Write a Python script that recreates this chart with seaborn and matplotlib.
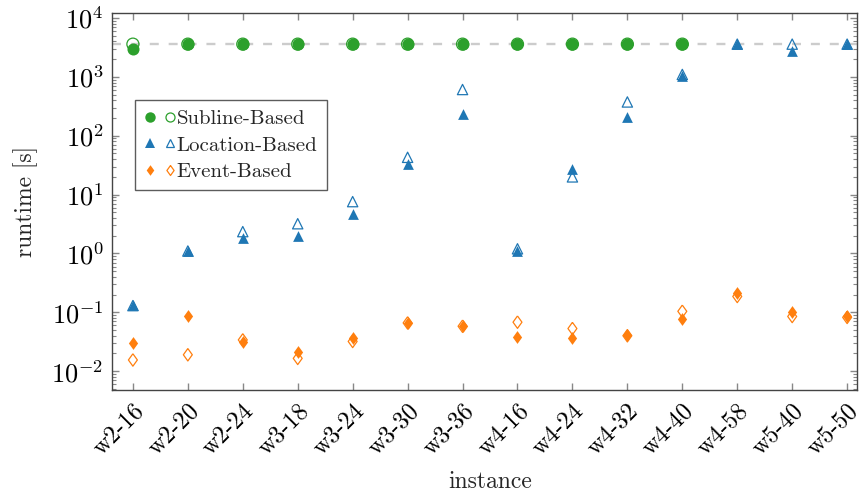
import numpy as np
import matplotlib
matplotlib.use("Agg")
import matplotlib.pyplot as plt
import seaborn as sbn
from matplotlib.legend_handler import HandlerTuple
from matplotlib.lines import Line2D
from matplotlib.ticker import LogLocator

nan = np.nan

instances = ["w2-16", "w2-20", "w2-24", "w3-18", "w3-24", "w3-30", "w3-36",
             "w4-16", "w4-24", "w4-32", "w4-40", "w4-58", "w5-40", "w5-50"]

subline_lleno = [2950, 3600, 3600, 3600, 3600, 3600, 3600,
                 3600, 3600, 3600, 3600, nan, nan, nan]
subline_hueco = [3600, 3600, 3600, 3600, 3600, 3600, 3600,
                 3600, 3600, 3600, 3600, nan, nan, nan]

location_lleno = [0.135, 1.1, 1.85, 1.95, 4.7, 33.5, 230,
                  1.1, 27, 210, 1030, 3600, 2780, 3600]
location_hueco = [0.13, 1.1, 2.35, 3.2, 7.6, 43, 610,
                  1.2, 20, 375, 1100, 3600, 3600, 3600]

event_lleno = [0.030, 0.088, 0.031, 0.021, 0.037, 0.066, 0.059,
               0.038, 0.037, 0.041, 0.078, 0.21, 0.10, 0.088]
event_hueco = [0.0155, 0.019, 0.034, 0.0165, 0.032, 0.066, 0.058,
               0.068, 0.053, 0.040, 0.104, 0.186, 0.085, 0.082]

timeout = 3600

verde = "#2ca02c"
azul = "#1f77b4"
naranja = "#ff7f0e"

# rombo al estilo pgfplots (mas alto que ancho)
rombo = [(0, 1), (0.72, 0), (0, -1), (-0.72, 0), (0, 1)]

sbn.set_style("ticks")
plt.rcParams["font.family"] = ["cmr10", "DejaVu Serif"]
plt.rcParams["mathtext.fontset"] = "cm"
plt.rcParams["axes.formatter.use_mathtext"] = True

fig = plt.figure(figsize = (8.59, 4.95), dpi = 100)
ax = fig.add_axes([0.1304, 0.2121, 0.8673, 0.7616])

ax.axhline(timeout, color = "#cccccc", linestyle = (0, (3.8, 4.2)), linewidth = 1.7, zorder = 1)

series = [
    (event_lleno, rombo, naranja, True, 85),
    (event_hueco, rombo, naranja, False, 80),
    (location_lleno, "^", azul, True, 60),
    (location_hueco, "^", azul, False, 55),
    (subline_hueco, "o", verde, False, 75),
    (subline_lleno, "o", verde, True, 75),
]
for valores, marcador, color, lleno, tam in series:
    if lleno:
        sbn.scatterplot(x = instances, y = valores, marker = marcador, color = color,
                        s = tam, linewidth = 0, ax = ax, zorder = 3)
    else:
        sbn.scatterplot(x = instances, y = valores, marker = marcador, color = color,
                        facecolor = "none", edgecolor = color, s = tam, linewidth = 0.9,
                        ax = ax, zorder = 3)

ax.set_yscale("log")
ax.set_ylim(10 ** -2.32, 10 ** 4.085)
ax.set_xlim(-0.38, 13.18)
ax.yaxis.set_major_locator(LogLocator(base = 10, numticks = 10))
ax.yaxis.set_minor_locator(LogLocator(base = 10, subs = np.arange(2, 10), numticks = 20))

for lado in ax.spines.values():
    lado.set_color("#444444")
    lado.set_linewidth(1.0)
ax.tick_params(axis = "both", which = "both", direction = "in", top = True, right = True,
               color = "#888888", labelcolor = "black")
ax.tick_params(axis = "both", which = "major", length = 5, width = 1)
ax.tick_params(axis = "y", which = "minor", length = 3, width = 0.8)
ax.tick_params(axis = "y", which = "major", pad = 6, labelsize = 19)
ax.tick_params(axis = "x", which = "major", pad = 7, labelsize = 17.5)
plt.setp(ax.get_xticklabels(), rotation = 45, ha = "right", rotation_mode = "anchor")

ax.set_xlabel("instance", fontsize = 17)
ax.set_ylabel("runtime [s]", fontsize = 17)
ax.xaxis.set_label_coords(0.507, -0.215)
ax.yaxis.set_label_coords(-0.1, 0.5)

def marca(m, c, lleno, ms):
    return Line2D([], [], linestyle = "none", marker = m, markersize = ms,
                  markerfacecolor = c if lleno else "none", markeredgecolor = c,
                  markeredgewidth = 0 if lleno else 0.9)

manijas = [
    (marca("o", verde, True, 7.5), marca("o", verde, False, 6.5)),
    (marca("^", azul, True, 6.8), marca("^", azul, False, 6.2)),
    (marca(rombo, naranja, True, 7.6), marca(rombo, naranja, False, 7.2)),
]
leyenda = ax.legend(manijas, ["Subline-Based", "Location-Based", "Event-Based"],
                    handler_map = {tuple: HandlerTuple(ndivide = None, pad = 0.4)},
                    loc = "upper left", bbox_to_anchor = (0.031, 0.769), borderaxespad = 0,
                    fontsize = 15, frameon = True, fancybox = False, handlelength = 1.5,
                    handletextpad = 0.05, borderpad = 0.45, labelspacing = 0.38)
leyenda.get_frame().set_edgecolor("#333333")
leyenda.get_frame().set_linewidth(1.0)

plt.savefig("out.png", dpi = 100)
plt.close()
